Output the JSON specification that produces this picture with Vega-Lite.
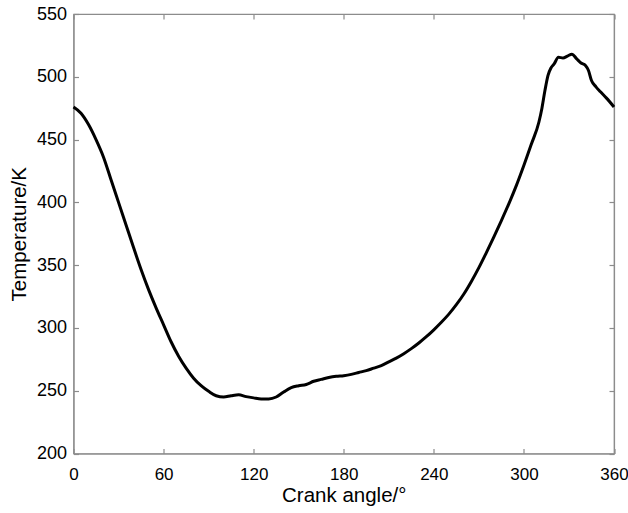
{
  "$schema": "https://vega.github.io/schema/vega-lite/v6.json",
  "autosize": "none",
  "padding": {"left": 73.5, "top": 14, "right": 14, "bottom": 59.5},
  "width": 540.5,
  "height": 439.5,
  "background": "white",
  "config": {
    "view": {"stroke": "#8c8c8c", "strokeWidth": 1.2},
    "axis": {"grid": false, "domainColor": "#8c8c8c", "tickColor": "#8c8c8c", "domainWidth": 1.2, "tickWidth": 1.2,
      "labelFont": "Liberation Sans", "titleFont": "Liberation Sans", "labelColor": "#000", "titleColor": "#000",
      "labelFontSize": 18, "titleFontSize": 20.5, "titleFontWeight": "normal", "tickSize": -5, "labelFlush": false}
  },
  "data": {"values": [
    {"a":0,"t":476},{"a":5,"t":471},{"a":10,"t":462},{"a":15,"t":450},{"a":20,"t":436},{"a":25,"t":418},
    {"a":30,"t":400},{"a":35,"t":382},{"a":40,"t":364},{"a":45,"t":346.5},{"a":50,"t":330.5},{"a":55,"t":316},
    {"a":60,"t":302.5},{"a":65,"t":289},{"a":70,"t":277.5},{"a":75,"t":268},{"a":80,"t":260},{"a":85,"t":254},
    {"a":90,"t":249.5},{"a":95,"t":246},{"a":100,"t":245},{"a":105,"t":246},{"a":110,"t":246.7},{"a":115,"t":245.3},
    {"a":120,"t":244.3},{"a":125,"t":243.5},{"a":130,"t":243.5},{"a":135,"t":245},{"a":140,"t":249},{"a":145,"t":252.5},
    {"a":150,"t":254},{"a":155,"t":255},{"a":160,"t":257.5},{"a":165,"t":259},{"a":170,"t":260.5},{"a":175,"t":261.5},
    {"a":180,"t":262},{"a":185,"t":263},{"a":190,"t":264.5},{"a":195,"t":266},{"a":200,"t":268},{"a":205,"t":270},
    {"a":210,"t":273},{"a":215,"t":276},{"a":220,"t":279.5},{"a":225,"t":283.5},{"a":230,"t":288},{"a":235,"t":293},
    {"a":240,"t":298.5},{"a":245,"t":304.5},{"a":250,"t":311},{"a":255,"t":318.5},{"a":260,"t":327},{"a":265,"t":337},
    {"a":270,"t":348},{"a":275,"t":360},{"a":280,"t":372.5},{"a":285,"t":385.5},{"a":290,"t":399},{"a":295,"t":413.5},
    {"a":300,"t":429.5},{"a":305,"t":446.5},{"a":310,"t":464},{"a":312,"t":475},{"a":314,"t":489},{"a":316,"t":501},
    {"a":318,"t":507},{"a":320,"t":510},{"a":323,"t":515.5},{"a":326,"t":515},{"a":329,"t":516.5},{"a":332,"t":518},
    {"a":335,"t":514.5},{"a":338,"t":511},{"a":341,"t":509},{"a":343,"t":505},{"a":345,"t":497},{"a":348,"t":492},
    {"a":351,"t":488},{"a":355,"t":483},{"a":360,"t":476}
  ]},
  "layer": [
    {
      "mark": {"type": "line", "color": "#000", "strokeWidth": 3, "interpolate": "monotone"},
      "encoding": {
        "x": {"field": "a", "type": "quantitative", "scale": {"domain": [0, 360], "nice": false},
          "axis": {"values": [0,60,120,180,240,300,360], "title": "Crank angle/°", "labelFontSize": 17, "labelPadding": 18, "titlePadding": 3}},
        "y": {"field": "t", "type": "quantitative", "scale": {"domain": [200, 550], "nice": false, "zero": false},
          "axis": {"values": [200,250,300,350,400,450,500,550], "title": "Temperature/K", "labelPadding": 12, "titlePadding": 7}}
      }
    },
    {
      "mark": {"type": "line", "opacity": 0},
      "encoding": {
        "x": {"field": "a", "type": "quantitative", "scale": {"domain": [0, 360], "nice": false},
          "axis": {"orient": "top", "values": [0,60,120,180,240,300,360], "labels": false, "title": null}},
        "y": {"field": "t", "type": "quantitative", "scale": {"domain": [200, 550], "nice": false, "zero": false},
          "axis": {"orient": "right", "values": [200,250,300,350,400,450,500,550], "labels": false, "title": null}}
      }
    }
  ],
  "resolve": {"axis": {"x": "independent", "y": "independent"}}
}
